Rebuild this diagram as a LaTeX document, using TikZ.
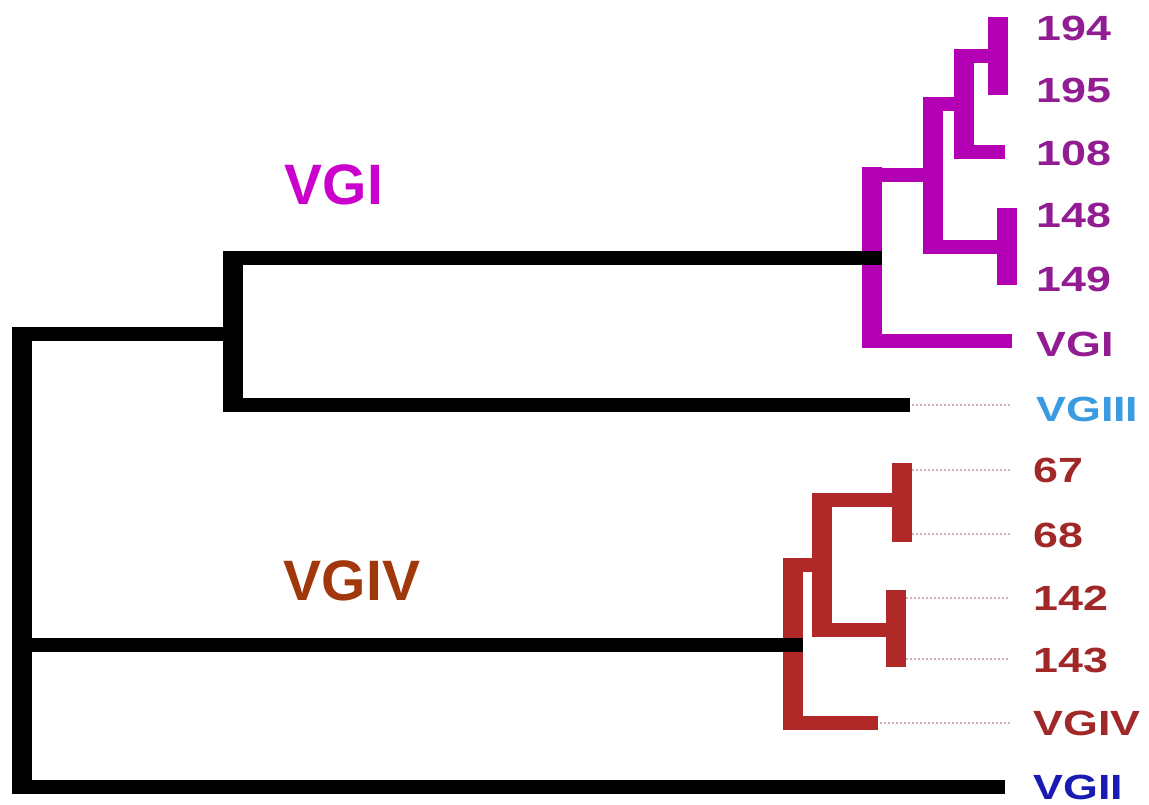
\documentclass[tikz,border=0pt]{standalone}
\usepackage{fontspec}
\setmainfont{Liberation Sans}
\definecolor{mag}{HTML}{B400B4}
\definecolor{magtxt}{HTML}{921C92}
\definecolor{magbig}{HTML}{CC00CC}
\definecolor{rd}{HTML}{B02828}
\definecolor{rdtxt}{HTML}{A02828}
\definecolor{brn}{HTML}{A0380C}
\definecolor{ltblue}{HTML}{3A9BE0}
\definecolor{dkblue}{HTML}{1A1AB4}
\definecolor{dotc}{HTML}{D8B0B0}
\begin{document}
\begin{tikzpicture}[x=1pt,y=-1pt,
  hb/.style={line width=14pt,line cap=butt},
  vb/.style={line width=20pt,line cap=butt},
  hm/.style={line width=14pt,line cap=butt,mag},
  vm/.style={line width=20pt,line cap=butt,mag},
  leaf/.style={anchor=base west,inner sep=0pt,font=\bfseries\fontsize{35}{35}\selectfont,xscale=1.28},
  big/.style={anchor=center,inner sep=0pt,font=\bfseries\fontsize{57}{57}\selectfont},
  dotline/.style={dotc,line width=1.2pt,dash pattern=on 2pt off 2pt}]
\useasboundingbox (0,0) rectangle (1149,805);
\fill[white] (0,0) rectangle (1149,805);
% coordinates
\coordinate (m4t) at (998,17); \coordinate (m4b) at (998,95);
\coordinate (m5t) at (1007,208); \coordinate (m5b) at (1007,285);
\coordinate (m3t) at (964,49); \coordinate (m3b) at (964,159);
\coordinate (m2t) at (933,97); \coordinate (m2b) at (933,254);
\coordinate (m1t) at (872,167); \coordinate (m1b) at (872,348);
\coordinate (r3t) at (902,463); \coordinate (r3b) at (902,542);
\coordinate (r4t) at (896,590); \coordinate (r4b) at (896,667);
\coordinate (r2t) at (822,493); \coordinate (r2b) at (822,637);
\coordinate (r1t) at (793,558); \coordinate (r1b) at (793,730);
\coordinate (b2t) at (233,251); \coordinate (b2b) at (233,412);
\coordinate (b1t) at (22,327); \coordinate (b1b) at (22,794);
% magenta clade
\draw[vm] (m4t) -- (m4b);
\draw[vm] (m5t) -- (m5b);
\draw[vm] (m3t) -- (m3b);
\draw[vm] (m2t) -- (m2b);
\draw[vm] (m1t) -- (m1b);
\draw[hm] (964,56) -- (998,56);
\draw[hm] (964,152) -- (1005,152);
\draw[hm] (933,104) -- (964,104);
\draw[hm] (933,247) -- (1007,247);
\draw[hm] (872,175) -- (943,175);
\draw[hm] (872,341) -- (1012,341);
% red clade
\draw[vb,rd] (r3t) -- (r3b);
\draw[vb,rd] (r4t) -- (r4b);
\draw[vb,rd] (r2t) -- (r2b);
\draw[vb,rd] (r1t) -- (r1b);
\draw[hb,rd] (822,500) -- (902,500);
\draw[hb,rd] (822,630) -- (896,630);
\draw[hb,rd] (793,565) -- (832,565);
\draw[hb,rd] (793,723) -- (878,723);
% black backbone
\draw[vb] (b1t) -- (b1b);
\draw[vb] (b2t) -- (b2b);
\draw[hb] (22,334) -- (233,334);
\draw[hb] (233,258) -- (882,258);
\draw[hb] (233,405) -- (910,405);
\draw[hb] (22,645) -- (803,645);
\draw[hb] (22,787) -- (1005,787);
% dotted guides
\draw[dotline] (912,405) -- (1010,405);
\draw[dotline] (912,470) -- (1010,470);
\draw[dotline] (912,534) -- (1010,534);
\draw[dotline] (906,598) -- (1010,598);
\draw[dotline] (906,659) -- (1010,659);
\draw[dotline] (880,723) -- (1010,723);
% leaf labels
\node[leaf,magtxt] (l194) at (1036,41) {194};
\node[leaf,magtxt] (l195) at (1036,103) {195};
\node[leaf,magtxt] (l108) at (1036,166) {108};
\node[leaf,magtxt] (l148) at (1036,228) {148};
\node[leaf,magtxt] (l149) at (1036,291) {149};
\node[leaf,magtxt] (lvgi) at (1036,356) {VGI};
\node[leaf,ltblue] (lvgiii) at (1036,421) {VGIII};
\node[leaf,rdtxt] (l67) at (1033,482) {67};
\node[leaf,rdtxt] (l68) at (1033,547) {68};
\node[leaf,rdtxt] (l142) at (1033,610) {142};
\node[leaf,rdtxt] (l143) at (1033,672) {143};
\node[leaf,rdtxt] (lvgiv) at (1033,735) {VGIV};
\node[leaf,dkblue] (lvgii) at (1033,799) {VGII};
% group labels
\node[big,magbig] (gvgi) at (334,185) {VGI};
\node[big,brn] (gvgiv) at (352,581) {VGIV};
\end{tikzpicture}
\end{document}
